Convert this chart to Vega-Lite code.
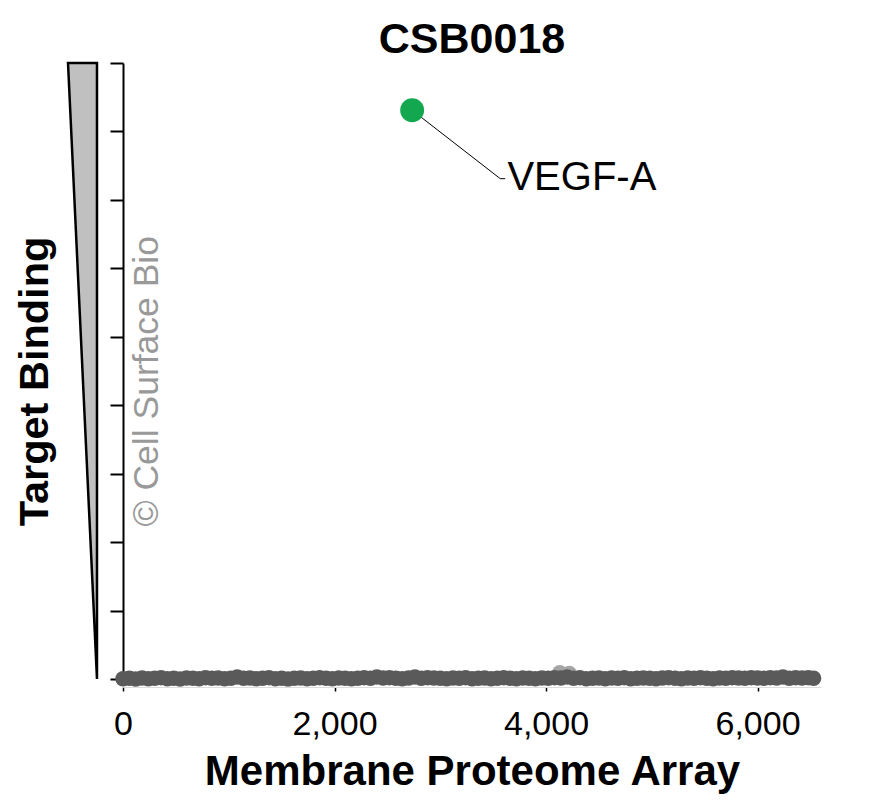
{
  "$schema": "https://vega.github.io/schema/vega-lite/v6.json",
  "description": "CSB0018 membrane proteome array binding screen.",
  "autosize": {"type": "none"},
  "padding": {"left": 123, "top": 63, "right": 56, "bottom": 127},
  "width": 698,
  "height": 616,
  "config": {
    "background": "white",
    "view": {"stroke": null},
    "font": "Liberation Sans"
  },
  "title": {
    "text": "CSB0018",
    "fontSize": 43,
    "fontWeight": "bold",
    "color": "black",
    "anchor": "middle",
    "offset": -4
  },
  "datasets": {
    "wedge": [
      {"y": 9, "x": -520, "x2": -246},
      {"y": 0, "x": -246, "x2": -246}
    ],
    "array": [
      {"x": 0, "y": 0.005}, {"x": 60, "y": 0.01}, {"x": 120, "y": 0.0}, {"x": 180, "y": 0.015},
      {"x": 240, "y": 0.005}, {"x": 300, "y": 0.01}, {"x": 360, "y": 0.02}, {"x": 420, "y": 0.005},
      {"x": 480, "y": 0.01}, {"x": 540, "y": 0.0}, {"x": 600, "y": 0.015}, {"x": 660, "y": 0.01},
      {"x": 720, "y": 0.005}, {"x": 780, "y": 0.02}, {"x": 840, "y": 0.01}, {"x": 900, "y": 0.015},
      {"x": 960, "y": 0.005}, {"x": 1020, "y": 0.01}, {"x": 1080, "y": 0.03}, {"x": 1140, "y": 0.01},
      {"x": 1200, "y": 0.015}, {"x": 1260, "y": 0.005}, {"x": 1320, "y": 0.01}, {"x": 1380, "y": 0.02},
      {"x": 1440, "y": 0.005}, {"x": 1500, "y": 0.01}, {"x": 1560, "y": 0.0}, {"x": 1620, "y": 0.01},
      {"x": 1680, "y": 0.015}, {"x": 1740, "y": 0.005}, {"x": 1800, "y": 0.01}, {"x": 1860, "y": 0.02},
      {"x": 1920, "y": 0.01}, {"x": 1980, "y": 0.005}, {"x": 2040, "y": 0.015}, {"x": 2100, "y": 0.01},
      {"x": 2160, "y": 0.005}, {"x": 2220, "y": 0.01}, {"x": 2280, "y": 0.02}, {"x": 2340, "y": 0.01},
      {"x": 2400, "y": 0.03}, {"x": 2460, "y": 0.015}, {"x": 2520, "y": 0.02}, {"x": 2580, "y": 0.01},
      {"x": 2640, "y": 0.005}, {"x": 2700, "y": 0.015}, {"x": 2760, "y": 0.03}, {"x": 2820, "y": 0.01},
      {"x": 2880, "y": 0.02}, {"x": 2940, "y": 0.015}, {"x": 3000, "y": 0.01}, {"x": 3060, "y": 0.005},
      {"x": 3120, "y": 0.015}, {"x": 3180, "y": 0.01}, {"x": 3240, "y": 0.02}, {"x": 3300, "y": 0.005},
      {"x": 3360, "y": 0.01}, {"x": 3420, "y": 0.015}, {"x": 3480, "y": 0.005}, {"x": 3540, "y": 0.01},
      {"x": 3600, "y": 0.02}, {"x": 3660, "y": 0.01}, {"x": 3720, "y": 0.005}, {"x": 3780, "y": 0.015},
      {"x": 3840, "y": 0.01}, {"x": 3900, "y": 0.005}, {"x": 3960, "y": 0.015}, {"x": 4020, "y": 0.01},
      {"x": 4080, "y": 0.02}, {"x": 4140, "y": 0.015}, {"x": 4200, "y": 0.03}, {"x": 4260, "y": 0.01},
      {"x": 4320, "y": 0.02}, {"x": 4380, "y": 0.005}, {"x": 4440, "y": 0.01}, {"x": 4500, "y": 0.015},
      {"x": 4560, "y": 0.005}, {"x": 4620, "y": 0.015}, {"x": 4680, "y": 0.01}, {"x": 4740, "y": 0.02},
      {"x": 4800, "y": 0.005}, {"x": 4860, "y": 0.01}, {"x": 4920, "y": 0.015}, {"x": 4980, "y": 0.01},
      {"x": 5040, "y": 0.005}, {"x": 5100, "y": 0.015}, {"x": 5160, "y": 0.02}, {"x": 5220, "y": 0.01},
      {"x": 5280, "y": 0.005}, {"x": 5340, "y": 0.015}, {"x": 5400, "y": 0.01}, {"x": 5460, "y": 0.02},
      {"x": 5520, "y": 0.01}, {"x": 5580, "y": 0.005}, {"x": 5640, "y": 0.015}, {"x": 5700, "y": 0.01},
      {"x": 5760, "y": 0.02}, {"x": 5820, "y": 0.015}, {"x": 5880, "y": 0.01}, {"x": 5940, "y": 0.02},
      {"x": 6000, "y": 0.015}, {"x": 6060, "y": 0.01}, {"x": 6120, "y": 0.02}, {"x": 6180, "y": 0.015},
      {"x": 6240, "y": 0.03}, {"x": 6300, "y": 0.01}, {"x": 6360, "y": 0.02}, {"x": 6420, "y": 0.015},
      {"x": 6480, "y": 0.02}, {"x": 6530, "y": 0.01}
    ],
    "faint": [
      {"x": 4130, "y": 0.09},
      {"x": 4220, "y": 0.08}
    ],
    "hit": [
      {"x": 2734, "y": 8.31, "target": "VEGF-A"}
    ],
    "leader": [
      {"x": 2734, "y": 8.31, "step": 1},
      {"x": 3567, "y": 7.31, "step": 2},
      {"x": 3614, "y": 7.31, "step": 3}
    ],
    "label": [
      {"x": 3635, "y": 7.14, "text": "VEGF-A"}
    ],
    "mark": [
      {"x": 227, "y": 4.35, "text": "© Cell Surface Bio"}
    ]
  },
  "layer": [
    {
      "data": {"name": "wedge"},
      "mark": {
        "type": "area",
        "orient": "horizontal",
        "fill": "#c0c0c0",
        "stroke": "black",
        "strokeWidth": 2.5,
        "clip": false
      },
      "encoding": {
        "y": {"field": "y", "type": "quantitative", "scale": {"domain": [0, 9], "nice": false, "zero": false}},
        "x": {"field": "x", "type": "quantitative", "scale": {"domain": [0, 6600], "nice": false, "zero": false}},
        "x2": {"field": "x2"}
      }
    },
    {
      "data": {"name": "faint"},
      "mark": {"type": "circle", "color": "#a5a5a5", "opacity": 1, "size": 240},
      "encoding": {
        "x": {"field": "x", "type": "quantitative"},
        "y": {"field": "y", "type": "quantitative"}
      }
    },
    {
      "data": {"name": "array"},
      "mark": {"type": "circle", "color": "#5a5a5a", "opacity": 1, "size": 240},
      "encoding": {
        "x": {
          "field": "x",
          "type": "quantitative",
          "scale": {"domain": [0, 6600], "nice": false, "zero": false},
          "axis": {
            "title": "Membrane Proteome Array",
            "values": [0, 2000, 4000, 6000],
            "format": ",d",
            "labelFlush": false,
            "grid": false,
            "offset": 8,
            "domainColor": "#dddddd",
            "domainWidth": 1,
            "tickColor": "black",
            "tickSize": 4,
            "tickWidth": 1.5,
            "labelFontSize": 34,
            "labelColor": "black",
            "labelPadding": 16,
            "titleFontSize": 42,
            "titleFontWeight": "bold",
            "titleColor": "black",
            "titlePadding": 10
          }
        },
        "y": {
          "field": "y",
          "type": "quantitative",
          "scale": {"domain": [0, 9], "nice": false, "zero": false},
          "axis": {
            "title": "Target Binding",
            "values": [0, 1, 2, 3, 4, 5, 6, 7, 8, 9],
            "labels": false,
            "grid": false,
            "domainColor": "black",
            "domainWidth": 2,
            "tickColor": "black",
            "tickSize": 13,
            "tickWidth": 2,
            "titleFontSize": 41.5,
            "titleFontWeight": "bold",
            "titleColor": "black",
            "titlePadding": 53,
            "titleY": 318
          }
        }
      }
    },
    {
      "data": {"name": "leader"},
      "mark": {"type": "line", "color": "black", "strokeWidth": 1},
      "encoding": {
        "x": {"field": "x", "type": "quantitative"},
        "y": {"field": "y", "type": "quantitative"},
        "order": {"field": "step"}
      }
    },
    {
      "data": {"name": "hit"},
      "mark": {"type": "circle", "color": "#13a84f", "opacity": 1, "size": 570},
      "encoding": {
        "x": {"field": "x", "type": "quantitative"},
        "y": {"field": "y", "type": "quantitative"},
        "tooltip": [{"field": "target", "title": "Target"}]
      }
    },
    {
      "data": {"name": "label"},
      "mark": {"type": "text", "fontSize": 40, "align": "left", "baseline": "alphabetic", "color": "black"},
      "encoding": {
        "x": {"field": "x", "type": "quantitative"},
        "y": {"field": "y", "type": "quantitative"},
        "text": {"field": "text"}
      }
    },
    {
      "data": {"name": "mark"},
      "mark": {"type": "text", "fontSize": 35.5, "angle": 270, "align": "center", "baseline": "middle", "color": "#999999"},
      "encoding": {
        "x": {"field": "x", "type": "quantitative"},
        "y": {"field": "y", "type": "quantitative"},
        "text": {"field": "text"}
      }
    }
  ]
}
